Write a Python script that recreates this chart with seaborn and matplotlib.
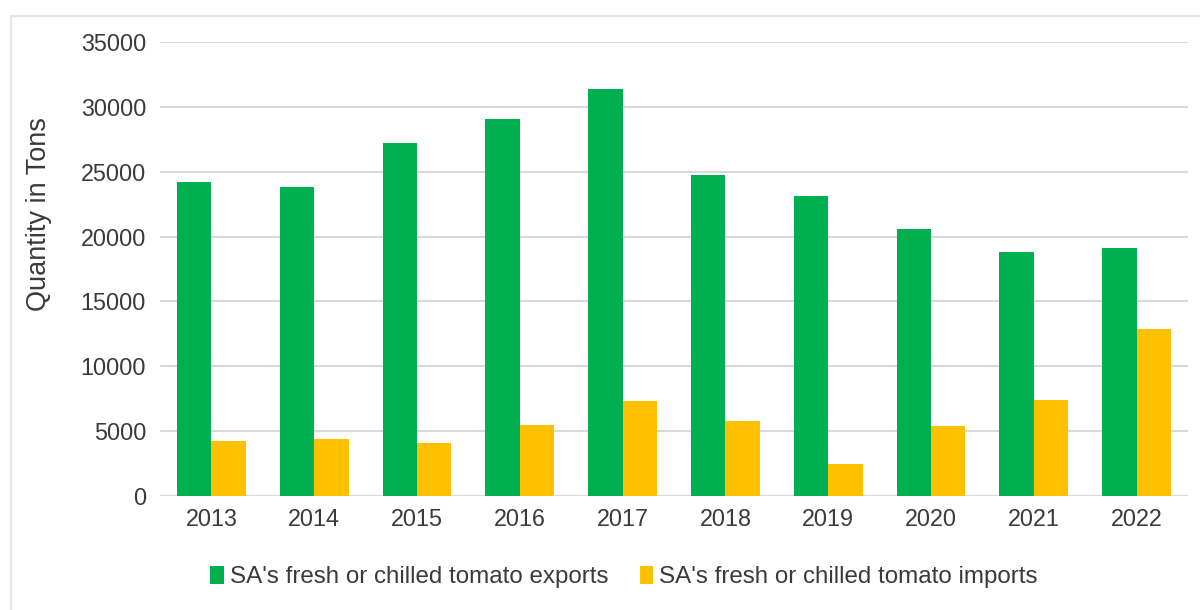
import matplotlib
matplotlib.use("Agg")
import matplotlib.pyplot as plt
from matplotlib.patches import Rectangle
import seaborn as sns
import pandas as pd

years = ["2013", "2014", "2015", "2016", "2017", "2018", "2019", "2020", "2021", "2022"]
exports = [24200, 23800, 27250, 29100, 31350, 24750, 23150, 20550, 18800, 19100]
imports = [4250, 4400, 4050, 5450, 7350, 5750, 2500, 5400, 7400, 12850]
series_names = ["SA's fresh or chilled tomato exports", "SA's fresh or chilled tomato imports"]
y_ticks = [0, 5000, 10000, 15000, 20000, 25000, 30000, 35000]
y_label = "Quantity in Tons"

colors = ["#00B050", "#FFC000"]
text_color = "#3A3A3A"
grid_color = "#D9D9D9"

df = pd.DataFrame({
    "Year": years * 2,
    "Value": exports + imports,
    "Series": [series_names[0]] * len(years) + [series_names[1]] * len(years),
})

sns.set_theme(style="white")
plt.rcParams["font.family"] = ["Liberation Sans", "DejaVu Sans"]

W, H = 1200, 610
fig = plt.figure(figsize=(W / 100, H / 100), dpi=100)
ax = fig.add_axes([160 / W, 1 - 496 / H, (1188 - 160) / W, (496 - 42) / H])

sns.barplot(data=df, x="Year", y="Value", hue="Series", hue_order=series_names,
            order=years, palette=colors, width=0.67, gap=0, linewidth=0,
            saturation=1, ax=ax, legend=False, zorder=3)

ax.set_ylim(0, 35000)
ax.set_xlim(-0.5, len(years) - 0.5)
ax.set_yticks(y_ticks)
ax.set_yticklabels([str(v) for v in y_ticks])
ax.yaxis.grid(True, color=grid_color, linewidth=1.5, zorder=0)
ax.xaxis.grid(False)
ax.set_axisbelow(True)
for s in ax.spines.values():
    s.set_visible(False)
ax.tick_params(axis="both", length=0, labelsize=16.8, colors=text_color)
ax.tick_params(axis="y", pad=10)
ax.tick_params(axis="x", pad=9)
ax.set_xlabel("")
ax.set_ylabel("")

fig.text(39 / W, 1 - 214 / H, y_label, rotation=90, ha="center", va="center",
         fontsize=19.5, color=text_color)

handles = [Rectangle((0, 0), 1, 1, facecolor=c, edgecolor="none") for c in colors]
fig.legend(handles, series_names, loc="center", bbox_to_anchor=(624 / W, 1 - 577 / H),
           ncol=2, frameon=False, fontsize=17.4, handlelength=0.55, handleheight=0.75,
           handletextpad=0.25, columnspacing=1.3, labelcolor=text_color)

frame = Rectangle((11 / W, -0.1), 1.2, 1 - 16 / H + 0.1, transform=fig.transFigure,
                  fill=False, edgecolor="#E6E6E6", linewidth=1.5, zorder=0)
fig.patches.append(frame)

fig.savefig("out.png", dpi=100)
